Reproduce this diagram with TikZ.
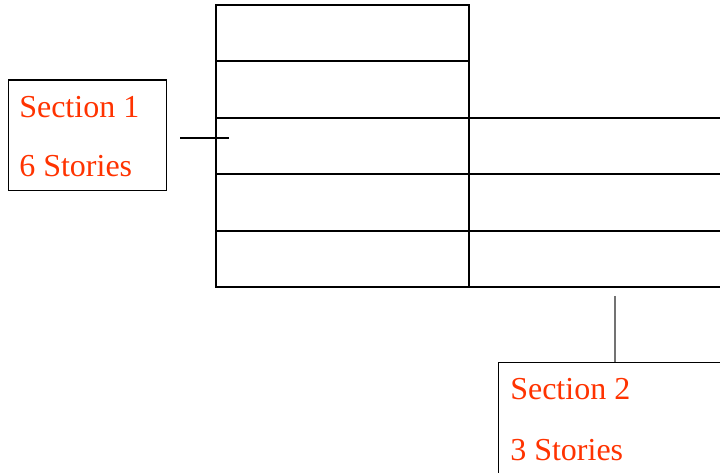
\documentclass[tikz,border=0pt]{standalone}
\usepackage{fontspec}
\setmainfont{Liberation Serif}
\definecolor{labelred}{RGB}{255,51,0}
\begin{document}
\begin{tikzpicture}[x=0.75pt,y=-0.75pt,
  wall/.style={draw=black,line width=1.6pt},
  labelbox/.style={draw=black,line width=1.1pt,fill=white,rectangle,inner sep=0pt,anchor=north west},
  labeltext/.style={text=labelred,font=\fontsize{24pt}{28pt}\selectfont,anchor=base west,inner sep=0pt},
  leader/.style={draw=black,line width=1.4pt},
  leadergray/.style={draw=black!55,line width=1.4pt}]
\useasboundingbox (0,0) rectangle (720,473);
\clip (0,0) rectangle (720,473);
% Section 1 (6 stories)
\draw[wall] (216,5) rectangle (469,287);
\foreach \yy in {61,118,174,231} {\draw[wall] (216,\yy) -- (469,\yy);}
% Section 2 (3 stories)
\foreach \yy in {118,174,231,287} {\draw[wall] (469,\yy) -- (725,\yy);}
% Label 1
\node[labelbox,minimum width=157.5*0.75pt,minimum height=110.5*0.75pt] (box1) at (8,79.5) {};
\node[labeltext] (s1a) at (19,118) {Section 1};
\node[labeltext] (s1b) at (19,177) {6 Stories};
\coordinate (l1a) at (180,138);
\coordinate (l1b) at (229,138);
\draw[leader] (l1a) -- (l1b);
% Label 2
\node[labelbox,minimum width=230*0.75pt,minimum height=120*0.75pt] (box2) at (498,362) {};
\node[labeltext] (s2a) at (510,399) {Section 2};
\node[labeltext] (s2b) at (510,460) {3 Stories};
\coordinate (l2a) at (615,296);
\draw[leadergray] (l2a) -- (l2a |- box2.north);
\end{tikzpicture}
\end{document}
